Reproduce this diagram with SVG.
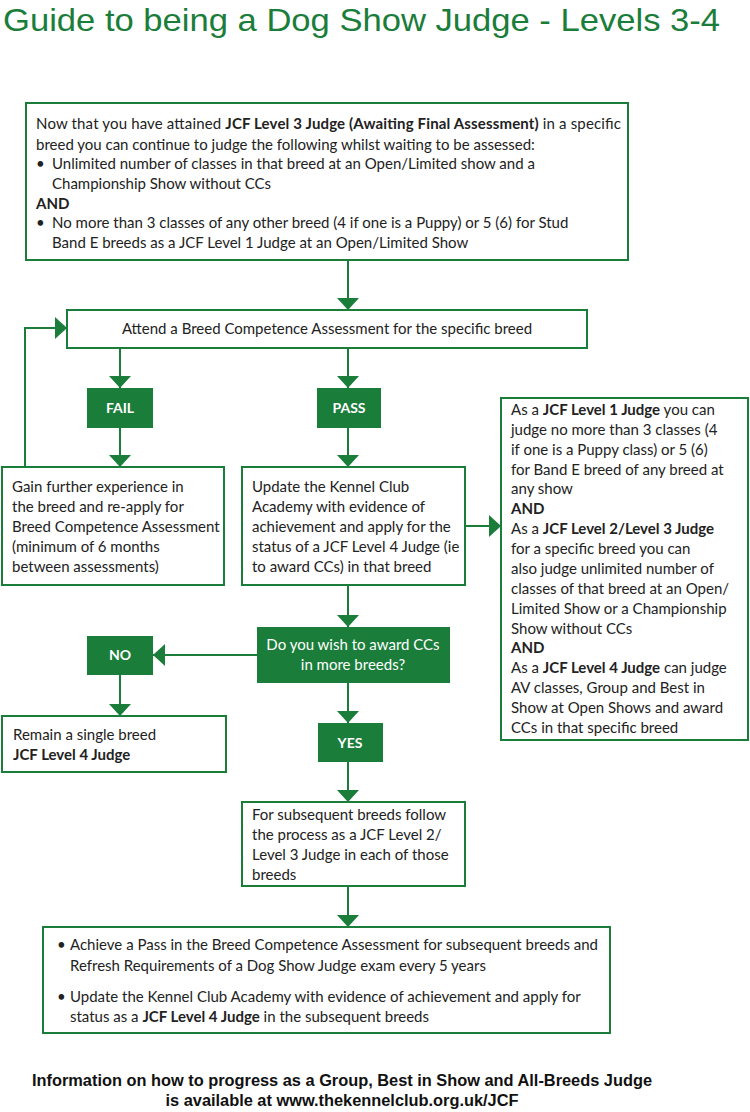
<svg xmlns="http://www.w3.org/2000/svg" width="750" height="1112" viewBox="0 0 750 1112">
<defs>
<style>
.box{fill:#fff;stroke:#1a7d3a;stroke-width:2}
.gbox{fill:#1a7d3a;stroke:none}
.t{font-family:"Lato","Liberation Sans",sans-serif;font-size:15px;fill:#222}
.b{font-weight:bold}
.wt{font-family:"Lato","Liberation Sans",sans-serif;font-size:15px;fill:#fff}
.lbl{font-family:"Lato","Liberation Sans",sans-serif;font-size:14px;font-weight:bold;fill:#fff}
.ln{fill:none;stroke:#1a7d3a;stroke-width:2}
.ft{font-family:"Liberation Sans",sans-serif;font-size:16px;font-weight:bold;fill:#111}
</style>
<marker id="ah" viewBox="0 0 12 22" markerWidth="12" markerHeight="22" refX="12" refY="11" orient="auto" markerUnits="userSpaceOnUse">
<path d="M0,0 L12,11 L0,22 z" fill="#1a7d3a"/>
</marker>
</defs>
<rect width="750" height="1112" fill="#fff"/>
<text x="3" y="31" font-family="'Liberation Sans',sans-serif" font-size="32" fill="#1a7d3a" textLength="717" lengthAdjust="spacingAndGlyphs">Guide to being a Dog Show Judge - Levels 3-4</text>

<g id="connectors">
<line class="ln" x1="348" y1="260" x2="348" y2="310" marker-end="url(#ah)"/>
<line class="ln" x1="120" y1="348" x2="120" y2="388" marker-end="url(#ah)"/>
<line class="ln" x1="348" y1="348" x2="348" y2="388" marker-end="url(#ah)"/>
<line class="ln" x1="120" y1="428" x2="120" y2="467" marker-end="url(#ah)"/>
<line class="ln" x1="348" y1="428" x2="348" y2="467" marker-end="url(#ah)"/>
<polyline class="ln" points="25,467 25,328 67,328" marker-end="url(#ah)"/>
<line class="ln" x1="465" y1="526" x2="501" y2="526" marker-end="url(#ah)"/>
<line class="ln" x1="348" y1="585" x2="348" y2="627" marker-end="url(#ah)"/>
<line class="ln" x1="257" y1="655" x2="153" y2="655" marker-end="url(#ah)"/>
<line class="ln" x1="120" y1="675" x2="120" y2="716" marker-end="url(#ah)"/>
<line class="ln" x1="348" y1="683" x2="348" y2="723" marker-end="url(#ah)"/>
<line class="ln" x1="348" y1="762" x2="348" y2="802" marker-end="url(#ah)"/>
<line class="ln" x1="348" y1="886" x2="348" y2="927" marker-end="url(#ah)"/>
</g>

<g id="intro">
<rect class="box" x="26" y="103" width="602" height="157"/>
<text class="t" x="36" y="129" textLength="585">Now that you have attained <tspan class="b">JCF Level 3 Judge (Awaiting Final Assessment)</tspan> in a specific</text>
<text class="t" x="36" y="150">breed you can continue to judge the following whilst waiting to be assessed:</text>
<text class="t" x="36" y="169">•</text>
<text class="t" x="52" y="169">Unlimited number of classes in that breed at an Open/Limited show and a</text>
<text class="t" x="52" y="189">Championship Show without CCs</text>
<text class="t b" x="36" y="209">AND</text>
<text class="t" x="36" y="228">•</text>
<text class="t" x="52" y="228">No more than 3 classes of any other breed (4 if one is a Puppy) or 5 (6) for Stud</text>
<text class="t" x="52" y="248">Band E breeds as a JCF Level 1 Judge at an Open/Limited Show</text>
</g>

<g id="attend">
<rect class="box" x="67" y="310" width="520" height="38"/>
<text class="t" x="327" y="334" text-anchor="middle">Attend a Breed Competence Assessment for the specific breed</text>
</g>

<g id="fail">
<rect class="gbox" x="87" y="388" width="66" height="40"/>
<text class="lbl" x="120" y="413" text-anchor="middle">FAIL</text>
</g>

<g id="pass">
<rect class="gbox" x="317" y="388" width="64" height="40"/>
<text class="lbl" x="349" y="413" text-anchor="middle">PASS</text>
</g>

<g id="gain">
<rect class="box" x="2" y="467" width="222" height="118"/>
<text class="t" x="12" y="492">Gain further experience in</text>
<text class="t" x="12" y="512">the breed and re-apply for</text>
<text class="t" x="12" y="532">Breed Competence Assessment</text>
<text class="t" x="12" y="552">(minimum of 6 months</text>
<text class="t" x="12" y="572">between assessments)</text>
</g>

<g id="update">
<rect class="box" x="242" y="467" width="223" height="118"/>
<text class="t" x="252" y="492">Update the Kennel Club</text>
<text class="t" x="252" y="512">Academy with evidence of</text>
<text class="t" x="252" y="532">achievement and apply for the</text>
<text class="t" x="252" y="552">status of a JCF Level 4 Judge (ie</text>
<text class="t" x="252" y="572">to award CCs) in that breed</text>
</g>

<g id="levels">
<rect class="box" x="501" y="398" width="247" height="342"/>
<text class="t" x="511" y="415">As a <tspan class="b">JCF Level 1 Judge</tspan> you can</text>
<text class="t" x="511" y="435">judge no more than 3 classes (4</text>
<text class="t" x="511" y="455">if one is a Puppy class) or 5 (6)</text>
<text class="t" x="511" y="475">for Band E breed of any breed at</text>
<text class="t" x="511" y="494">any show</text>
<text class="t b" x="511" y="514">AND</text>
<text class="t" x="511" y="534">As a <tspan class="b">JCF Level 2/Level 3 Judge</tspan></text>
<text class="t" x="511" y="554">for a specific breed you can</text>
<text class="t" x="511" y="574">also judge unlimited number of</text>
<text class="t" x="511" y="594">classes of that breed at an Open/</text>
<text class="t" x="511" y="614">Limited Show or a Championship</text>
<text class="t" x="511" y="634">Show without CCs</text>
<text class="t b" x="511" y="653">AND</text>
<text class="t" x="511" y="673">As a <tspan class="b">JCF Level 4 Judge</tspan> can judge</text>
<text class="t" x="511" y="693">AV classes, Group and Best in</text>
<text class="t" x="511" y="713">Show at Open Shows and award</text>
<text class="t" x="511" y="733">CCs in that specific breed</text>
</g>

<g id="decision">
<rect class="gbox" x="257" y="627" width="193" height="56"/>
<text class="wt" x="353" y="650" text-anchor="middle">Do you wish to award CCs</text>
<text class="wt" x="353" y="670" text-anchor="middle">in more breeds?</text>
</g>

<g id="no">
<rect class="gbox" x="87" y="636" width="66" height="39"/>
<text class="lbl" x="120" y="660" text-anchor="middle">NO</text>
</g>

<g id="remain">
<rect class="box" x="2" y="716" width="224" height="56"/>
<text class="t" x="13" y="740">Remain a single breed</text>
<text class="t b" x="13" y="760">JCF Level 4 Judge</text>
</g>

<g id="yes">
<rect class="gbox" x="318" y="723" width="65" height="39"/>
<text class="lbl" x="350" y="748" text-anchor="middle">YES</text>
</g>

<g id="subsequent">
<rect class="box" x="242" y="802" width="223" height="84"/>
<text class="t" x="252" y="820">For subsequent breeds follow</text>
<text class="t" x="252" y="840">the process as a JCF Level 2/</text>
<text class="t" x="252" y="860">Level 3 Judge in each of those</text>
<text class="t" x="252" y="880">breeds</text>
</g>

<g id="final">
<rect class="box" x="43" y="927" width="567" height="106"/>
<text class="t" x="57" y="950">•</text>
<text class="t" x="70" y="950">Achieve a Pass in the Breed Competence Assessment for subsequent breeds and</text>
<text class="t" x="70" y="971">Refresh Requirements of a Dog Show Judge exam every 5 years</text>
<text class="t" x="57" y="1002">•</text>
<text class="t" x="70" y="1002">Update the Kennel Club Academy with evidence of achievement and apply for</text>
<text class="t" x="70" y="1022">status as a <tspan class="b">JCF Level 4 Judge</tspan> in the subsequent breeds</text>
</g>

<g id="footer">
<text class="ft" x="342" y="1086" text-anchor="middle" textLength="620" lengthAdjust="spacingAndGlyphs">Information on how to progress as a Group, Best in Show and All-Breeds Judge</text>
<text class="ft" x="342" y="1106" text-anchor="middle" textLength="353" lengthAdjust="spacingAndGlyphs">is available at www.thekennelclub.org.uk/JCF</text>
</g>
</svg>
